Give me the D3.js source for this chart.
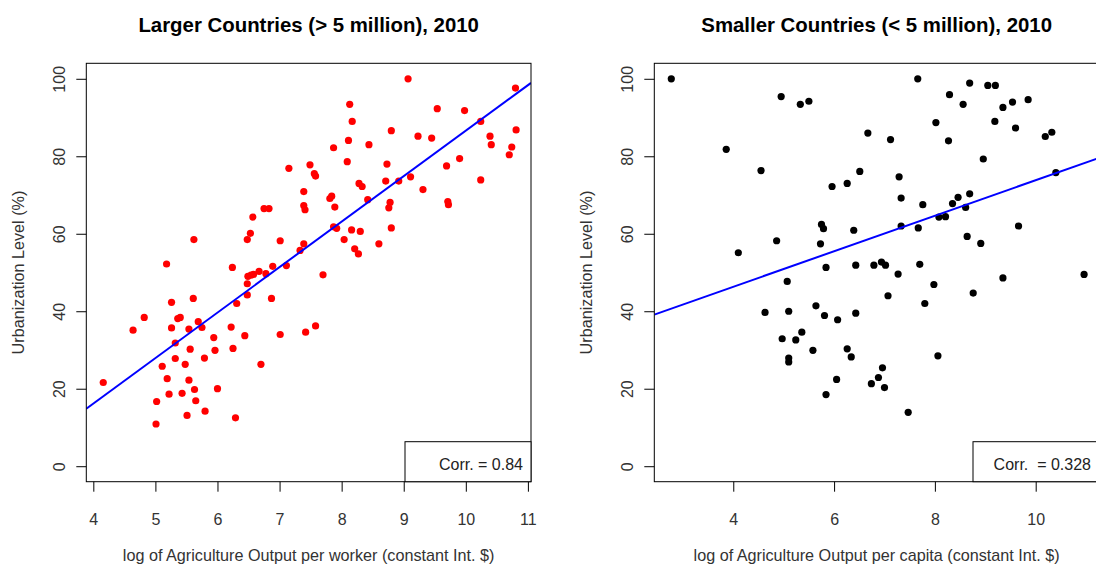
<!DOCTYPE html>
<html>
<head>
<meta charset="utf-8">
<script src="https://cdn.jsdelivr.net/npm/d3@7"></script>
<style>
  html, body { margin: 0; padding: 0; background: #fff; }
  svg { display: block; font-family: "Liberation Sans", Arial, sans-serif; }
</style>
</head>
<body>
<svg id="chart" width="1096" height="569"></svg>
<script>
// ---- Data ----
const titles = ["Larger Countries (> 5 million), 2010", "Smaller Countries (< 5 million), 2010"];
const xTitles = ["log of Agriculture Output per worker (constant Int. $)", "log of Agriculture Output per capita (constant Int. $)"];
const yTitle = "Urbanization Level (%)";
const corrLabels = ["Corr. = 0.84", "Corr.  = 0.328"];
const xTicksLarge = [4, 5, 6, 7, 8, 9, 10, 11];
const xTicksSmall = [4, 6, 8, 10];
const yTicks = [0, 20, 40, 60, 80, 100];

const largeX = [7.15,6.75,6.83,6.57,6.53,6.48,5.62,7.01,5.18,6.24,
  6.89,6.67,7.11,7.33,6.49,6.54,6.58,6.78,6.48,6.48,
  5.26,5.61,6.31,6.87,4.82,4.64,5.26,5.36,5.40,5.54,
  5.69,5.75,6.22,5.94,6.44,7.01,5.32,5.56,5.96,6.25,
  5.32,5.79,5.11,5.48,6.70,5.19,5.54,4.16,5.63,6.00,
  5.22,5.43,5.65,5.02,5.51,5.80,6.29,5.01,
  9.07,10.80,8.13,9.54,9.98,8.17,10.24,8.80,10.81,9.23,
  9.45,10.39,8.11,8.44,7.87,10.41,10.74,10.70,8.09,8.73,
  9.90,9.69,7.49,7.56,7.58,9.11,8.71,8.92,10.24,8.28,
  8.33,7.39,9.31,7.84,7.81,8.42,8.78,8.76,9.71,9.72,
  7.39,7.41,7.89,7.87,7.92,8.16,8.30,8.80,8.04,8.60,
  8.21,8.27,7.39,7.70,7.58,7.42];
const largeY = [76.9,66.5,66.5,64.3,60.1,58.5,58.5,58.2,52.2,51.3,
  51.6,50.3,51.8,55.7,49.0,49.3,49.5,49.7,47.1,44.2,
  42.3,43.3,42.0,43.3,38.4,35.1,35.7,38.1,38.4,35.4,
  37.3,35.8,35.9,33.2,33.7,34.0,31.8,30.2,29.9,30.4,
  27.8,27.9,25.8,26.3,26.3,22.6,22.2,21.6,19.8,20.0,
  18.6,18.8,16.9,16.7,13.1,14.2,12.5,10.9,
  100.0,97.6,93.4,92.3,91.8,89.0,89.0,86.6,86.8,85.2,
  84.7,85.2,84.1,83.0,82.2,83.0,82.4,80.4,78.6,78.0,
  79.4,77.5,77.8,75.5,74.9,74.7,73.6,73.6,73.9,73.0,
  72.2,70.9,71.4,69.7,69.1,68.8,68.1,66.7,68.3,67.5,
  67.3,66.2,66.9,61.8,61.4,61.0,60.6,61.5,58.5,57.4,
  56.1,54.8,57.4,49.4,36.2,34.6];

const smallX = [2.77,4.95,5.33,5.50,6.67,3.86,4.55,6.51,5.96,6.26,
  5.75,5.79,6.39,4.86,5.73,4.10,5.84,6.43,6.79,7.66,
  8.69,9.05,9.20,8.29,8.56,9.35,9.54,9.85,8.02,9.19,
  9.60,7.12,8.27,10.19,10.32,8.96,7.29,10.40,7.33,7.76,
  8.35,8.46,8.69,8.61,8.08,8.21,7.33,7.67,9.66,8.64,
  8.91,6.94,7.02,7.70,7.27,10.96,5.07,4.63,5.10,5.64,
  5.81,6.07,6.43,5.36,4.97,5.24,5.58,6.26,6.34,5.10,
  5.10,6.05,6.74,5.84,7.98,7.07,7.80,8.76,9.35,8.06,
  6.96,6.88,7.00,7.47];
const smallY = [100.0,95.4,93.4,94.2,86.0,81.8,76.3,76.1,72.2,73.0,
  62.4,61.3,60.9,58.2,57.4,55.1,51.3,51.9,51.9,100.0,
  98.9,98.3,98.3,95.9,93.4,92.6,94.0,94.6,88.7,89.0,
  87.3,84.3,84.0,85.1,86.2,79.3,74.7,75.8,69.2,67.5,
  67.8,69.4,70.3,66.8,64.3,64.4,62.0,61.5,62.0,59.3,
  57.5,52.7,51.9,52.1,49.6,49.5,47.7,39.7,40.0,41.4,
  38.9,37.8,39.5,34.6,32.9,32.6,29.9,30.3,28.2,27.9,
  26.9,22.4,21.3,18.5,46.9,44.0,42.0,44.7,48.6,28.5,
  25.4,22.9,20.3,13.9];

// fitted regression lines (intercept, slope)
const fitIntercepts = [-30.79, 27.98];
const fitSlopes = [11.74, 4.584];

// ---- Layout ----
const svg = d3.select("#chart");
svg.append("rect").attr("width", 1096).attr("height", 569).attr("fill", "#fff");

const panels = [
  { xs: largeX, ys: largeY, xTicks: xTicksLarge, xDomain: [3.887, 11.05], left: 86.3, color: "#ff0000" },
  { xs: smallX, ys: smallY, xTicks: xTicksSmall, xDomain: [2.433, 11.256], left: 654.3, color: "#000000" }
];
const plotW = 444.7, plotTop = 63.3, plotBottom = 481.7;
const textCol = "#333";

panels.forEach((p, i) => {
  const x = d3.scaleLinear().domain(p.xDomain).range([p.left, p.left + plotW]);
  const y = d3.scaleLinear().domain([-4, 104]).range([plotBottom, plotTop]);
  const g = svg.append("g");

  const clipId = "clip" + i;
  svg.append("defs").append("clipPath").attr("id", clipId)
    .append("rect").attr("x", p.left).attr("y", plotTop).attr("width", plotW).attr("height", plotBottom - plotTop);

  // points
  g.append("g").selectAll("circle")
    .data(p.xs.map((v, k) => [v, p.ys[k]]))
    .join("circle")
    .attr("cx", d => x(d[0])).attr("cy", d => y(d[1]))
    .attr("r", 3.6).attr("fill", p.color);

  // regression line
  const xd = x.domain();
  g.append("line")
    .attr("clip-path", `url(#${clipId})`)
    .attr("x1", x(xd[0])).attr("y1", y(fitIntercepts[i] + fitSlopes[i] * xd[0]))
    .attr("x2", x(xd[1])).attr("y2", y(fitIntercepts[i] + fitSlopes[i] * xd[1]))
    .attr("stroke", "#0000ff").attr("stroke-width", 2);

  // box
  g.append("rect").attr("x", p.left).attr("y", plotTop).attr("width", plotW).attr("height", plotBottom - plotTop)
    .attr("fill", "none").attr("stroke", "#000").attr("stroke-width", 1);

  // x axis
  const xAxis = d3.axisBottom(x).tickValues(p.xTicks).tickSize(10).tickPadding(15).tickFormat(d3.format("d"));
  const xa = g.append("g").attr("transform", `translate(0,${plotBottom})`).call(xAxis);
  xa.select(".domain").remove();
  xa.selectAll(".tick line").attr("stroke", "#000");
  xa.selectAll(".tick text").attr("font-size", 16).attr("fill", textCol)
    .attr("font-family", "Liberation Sans, Arial, sans-serif").attr("dy", null).attr("y", 43.5);

  // y axis
  const yAxis = d3.axisLeft(y).tickValues(yTicks).tickSize(10).tickFormat(d3.format("d"));
  const ya = g.append("g").attr("transform", `translate(${p.left},0)`).call(yAxis);
  ya.select(".domain").remove();
  ya.selectAll(".tick line").attr("stroke", "#000");
  ya.selectAll(".tick text").attr("font-size", 16).attr("fill", textCol)
    .attr("font-family", "Liberation Sans, Arial, sans-serif")
    .attr("x", null).attr("dy", null).attr("text-anchor", "middle")
    .attr("transform", "translate(-21.5,0) rotate(-90)");

  // titles
  const cx = p.left + plotW / 2;
  svg.append("text").attr("x", cx).attr("y", 31.5).attr("text-anchor", "middle")
    .attr("font-size", 20.4).attr("font-weight", "bold").attr("fill", "#000").text(titles[i]);
  svg.append("text").attr("x", cx).attr("y", 561).attr("text-anchor", "middle")
    .attr("font-size", 16.2).attr("fill", textCol).text(xTitles[i]);
  svg.append("text").attr("transform", `translate(${p.left - 62},${(plotTop + plotBottom) / 2}) rotate(-90)`)
    .attr("text-anchor", "middle").attr("font-size", 16.2).attr("fill", textCol).text(yTitle);

  // legend box
  const legW = 126;
  g.append("rect").attr("x", p.left + plotW - legW).attr("y", 441.7).attr("width", legW).attr("height", plotBottom - 441.7)
    .attr("fill", "#fff").attr("stroke", "#000").attr("stroke-width", 1);
  g.append("text").attr("x", p.left + plotW - 8).attr("y", 470).attr("text-anchor", "end")
    .attr("font-size", 16).attr("fill", "#222").attr("xml:space", "preserve").style("white-space", "pre")
    .text(corrLabels[i]);
});
</script>
</body>
</html>
